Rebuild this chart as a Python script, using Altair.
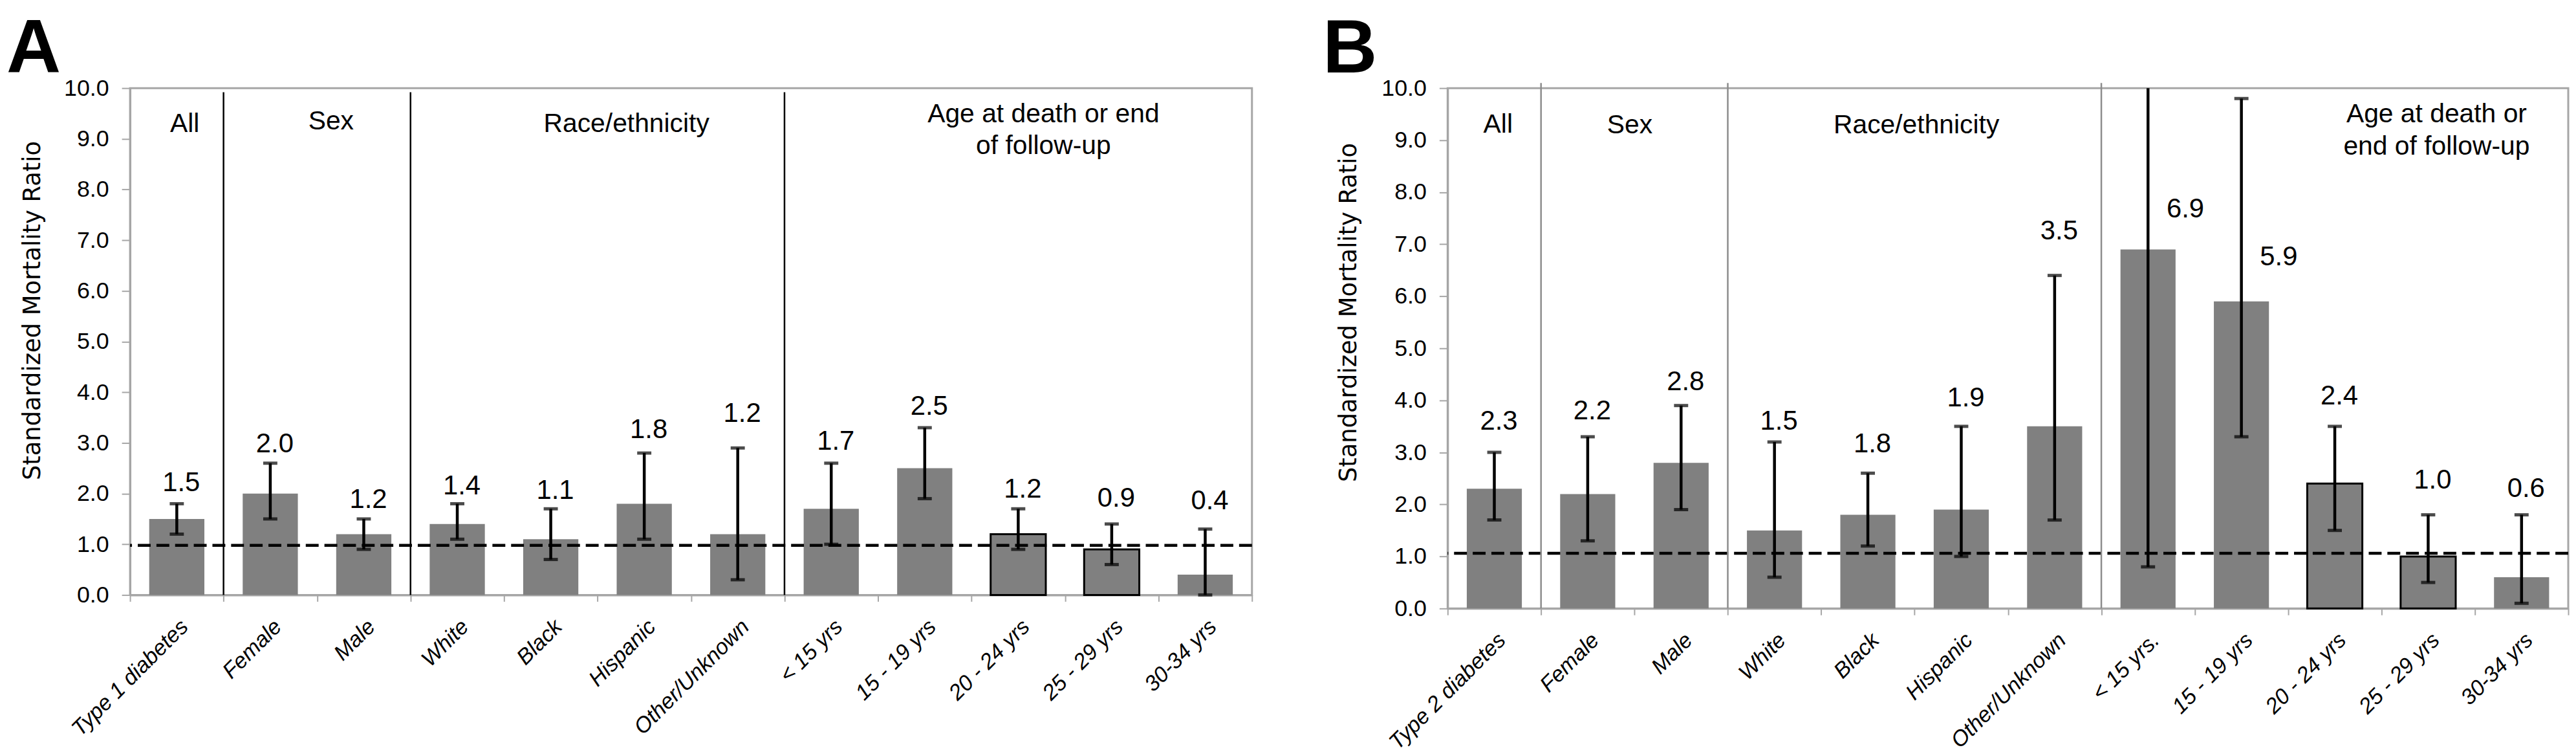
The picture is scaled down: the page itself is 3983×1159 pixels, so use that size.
import altair as alt
import pandas as pd

# ---------------- Panel A : type 1 diabetes ----------------
cats_a = ["Type 1 diabetes", "Female", "Male", "White", "Black", "Hispanic",
          "Other/Unknown", "< 15 yrs", "15 - 19 yrs", "20 - 24 yrs",
          "25 - 29 yrs", "30-34 yrs"]
smr_a = [1.5, 2.0, 1.2, 1.4, 1.1, 1.8, 1.2, 1.7, 2.5, 1.2, 0.9, 0.4]
lo_a = [1.2, 1.5, 0.9, 1.1, 0.7, 1.1, 0.3, 1.0, 1.9, 0.9, 0.6, 0.0]
hi_a = [1.8, 2.6, 1.5, 1.8, 1.7, 2.8, 2.9, 2.6, 3.3, 1.7, 1.4, 1.3]
label_y_a = [2.05, 2.82, 1.72, 1.98, 1.89, 3.10, 3.42, 2.86, 3.56, 1.92, 1.74, 1.69]
outlined_a = [False] * 9 + [True, True, False]
side_a = ["top"] * 12
ref_a = 0.98

# ---------------- Panel B : type 2 diabetes ----------------
cats_b = ["Type 2 diabetes", "Female", "Male", "White", "Black", "Hispanic",
          "Other/Unknown", "< 15 yrs.", "15 - 19 yrs", "20 - 24 yrs",
          "25 - 29 yrs", "30-34 yrs"]
smr_b = [2.3, 2.2, 2.8, 1.5, 1.8, 1.9, 3.5, 6.9, 5.9, 2.4, 1.0, 0.6]
lo_b = [1.7, 1.3, 1.9, 0.6, 1.2, 1.0, 1.7, 0.8, 3.3, 1.5, 0.5, 0.1]
hi_b = [3.0, 3.3, 3.9, 3.2, 2.6, 3.5, 6.4, 10.0, 9.8, 3.5, 1.8, 1.8]
label_y_b = [3.44, 3.64, 4.20, 3.44, 3.00, 3.89, 7.09, 7.51, 6.60, 3.92, 2.30, 2.14]
outlined_b = [False] * 9 + [True, True, False]
side_b = ["top"] * 7 + ["right", "right"] + ["top"] * 3
ref_b = 1.06

# ---------------- groups ----------------
group_sizes = [1, 2, 4, 5]
groups_a = ["All", "Sex", "Race/ethnicity", "Age at death or end\nof follow-up"]
groups_b = ["All", "Sex", "Race/ethnicity", "Age at death or\nend of follow-up"]
group_pos_a = [0.585, 2.15, 5.31, 9.77]
group_y_a = [9.14, 9.19, 9.14, 9.33]
group_pos_b = [0.54, 1.95, 5.02, 10.59]
group_y_b = [9.15, 9.13, 9.13, 9.34]

FONT = "Liberation Sans"
AXIS_GRAY = "#a6a6a6"
BAR_GRAY = "#808080"


def make_panel(cats, smr, lo, hi, label_y, outlined, side, ref, groups, group_pos,
               group_y, sep_top, sep_color, letter, letter_dx, width, height,
               title_x, title_y):
    n = len(cats)
    df = pd.DataFrame({"cat": cats, "smr": smr, "lo": lo, "hi": hi, "ly": label_y,
                       "outlined": outlined, "side": side,
                       "txt": [f"{v:.1f}" for v in smr]})
    yscale = alt.Scale(domain=[0, 10], nice=False, zero=True)
    yaxis = alt.Axis(title="Standardized Mortality Ratio", values=list(range(11)),
                     format=".1f", grid=False,
                     labelFont=FONT, labelFontSize=36, labelColor="black",
                     labelPadding=20, tickSize=13, tickColor=AXIS_GRAY, tickWidth=2,
                     domainColor=AXIS_GRAY, domainWidth=3,
                     titleFont="DejaVu Sans", titleFontSize=37,
                     titleFontWeight="normal", titleColor="black",
                     titleAngle=270, titleAlign="center", titleBaseline="middle",
                     titleX=title_x, titleY=title_y)

    def Y(f):
        return alt.Y(f, type="quantitative", scale=yscale, axis=yaxis)

    xaxis = alt.Axis(title=None, labelAngle=315, labelAlign="right",
                     labelBaseline="top", labelFont=FONT, labelFontStyle="italic",
                     labelFontSize=34, labelColor="black", labelPadding=22,
                     labelLimit=500, labelOverlap=False, tickBand="extent",
                     tickSize=10, tickColor=AXIS_GRAY, tickWidth=2,
                     domainColor=AXIS_GRAY, domainWidth=3)
    X = alt.X("cat:N", sort=cats,
              scale=alt.Scale(paddingInner=0, paddingOuter=0), axis=xaxis)

    base = alt.Chart(df)
    bars = base.mark_bar(color=BAR_GRAY, width=alt.RelativeBandSize(0.59)).encode(
        x=X, y=Y("smr"))
    outl = base.transform_filter("datum.outlined").mark_bar(
        color=BAR_GRAY, stroke="black", strokeWidth=3,
        width=alt.RelativeBandSize(0.59)).encode(x=X, y=Y("smr"))
    refline = alt.Chart(pd.DataFrame({"ref": [ref]})).mark_rule(
        color="black", strokeDash=[20, 9], strokeWidth=4.5).encode(y=Y("ref"))
    err = base.mark_rule(color="black", strokeWidth=4.5).encode(
        x=X, y=Y("lo"), y2="hi")
    cap_lo = base.mark_tick(color="black", size=22, thickness=5).encode(
        x=X, y=Y("lo"))
    cap_hi = base.transform_filter("datum.hi < 10").mark_tick(
        color="black", size=22, thickness=5).encode(x=X, y=Y("hi"))
    lab_top = base.transform_filter("datum.side == 'top'").mark_text(
        font=FONT, fontSize=42, baseline="alphabetic", align="center", dx=7,
        color="black").encode(x=X, y=Y("ly"), text="txt:N")
    lab_right = base.transform_filter("datum.side == 'right'").mark_text(
        font=FONT, fontSize=42, baseline="alphabetic", align="center", dx=58,
        color="black").encode(x=X, y=Y("ly"), text="txt:N")

    band_layer = alt.layer(bars, outl, refline, err, cap_lo, cap_hi, lab_top, lab_right)

    idx_scale = alt.Scale(domain=[0, n], nice=False, zero=False)
    bounds = []
    acc = 0
    for s in group_sizes[:-1]:
        acc += s
        bounds.append(acc)
    sep_df = pd.DataFrame({"pos": bounds, "top": [sep_top] * len(bounds),
                           "bot": [0.0] * len(bounds)})
    seps = alt.Chart(sep_df).mark_rule(color=sep_color, strokeWidth=2.5).encode(
        x=alt.X("pos:Q", scale=idx_scale, axis=None), y=Y("bot"), y2="top")
    grp_df = pd.DataFrame({"g": groups, "pos": group_pos, "gy": group_y})
    grp = alt.Chart(grp_df).mark_text(
        font=FONT, fontSize=41, lineBreak="\n", lineHeight=50, align="center",
        baseline="alphabetic", color="black").encode(
        x=alt.X("pos:Q", scale=idx_scale, axis=None), y=Y("gy"), text="g:N")
    idx_layer = alt.layer(seps, grp)

    return alt.layer(band_layer, idx_layer).resolve_scale(x="independent").properties(
        width=width, height=height,
        title=alt.TitleParams(text=letter, anchor="start", frame="group",
                              fontSize=117, font=FONT, fontWeight="bold",
                              color="black", dx=letter_dx, offset=-111,
                              baseline="alphabetic"))


panel_a = make_panel(cats_a, smr_a, lo_a, hi_a, label_y_a, outlined_a, side_a, ref_a,
                     groups_a, group_pos_a, group_y_a, 9.92, "black", "A", -192,
                     1743, 787, -151, 345)
panel_b = make_panel(cats_b, smr_b, lo_b, hi_b, label_y_b, outlined_b, side_b, ref_b,
                     groups_b, group_pos_b, group_y_b, 10.1, "#8c8c8c", "B", -194,
                     1741, 808, -153, 348)

chart = alt.hconcat(panel_a, panel_b, spacing=104).properties(
    padding={"left": 0, "top": 6, "right": 0, "bottom": 0}
).configure_view(stroke=AXIS_GRAY, strokeWidth=3)

chart.save("out.html", embed_options={"renderer": "svg", "actions": False})
